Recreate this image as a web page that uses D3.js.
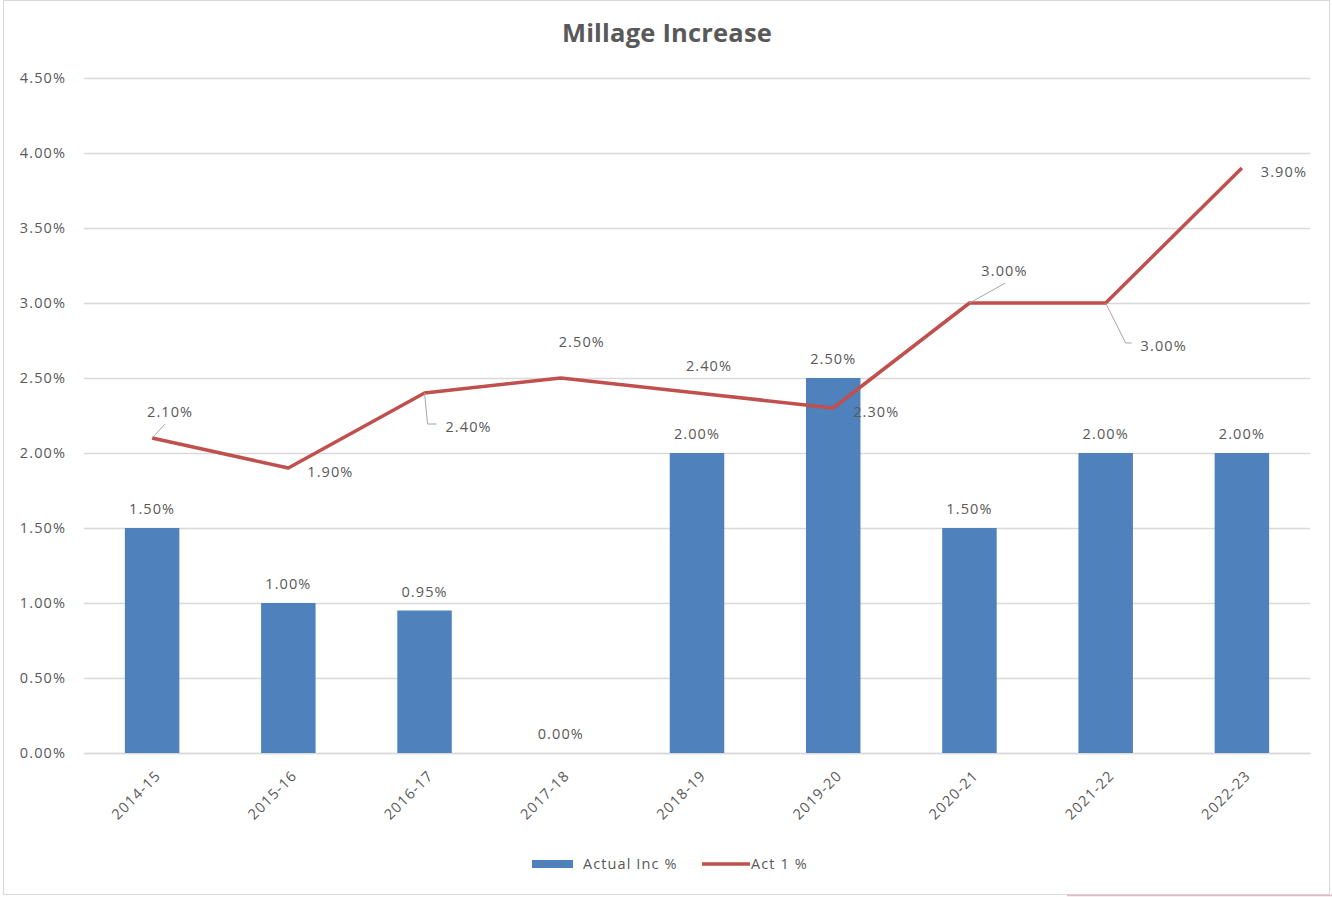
<!DOCTYPE html>
<html><head><meta charset="utf-8">
<script src="https://cdn.jsdelivr.net/npm/d3@7"></script>
<style>body{margin:0;background:#fff}svg{display:block}text{font-family:"Open Sans","Liberation Sans",sans-serif;fill:#595959;letter-spacing:1.1px}</style>
</head><body><svg id="c" width="1332" height="897"></svg>
<script>
const categories = ["2014-15","2015-16","2016-17","2017-18","2018-19","2019-20","2020-21","2021-22","2022-23"];
const actualInc = [1.50,1.00,0.95,0.00,2.00,2.50,1.50,2.00,2.00];
const act1 = [2.10,1.90,2.40,2.50,2.40,2.30,3.00,3.00,3.90];
const yTicks = [0,0.5,1,1.5,2,2.5,3,3.5,4,4.5];
// label placement offsets for line labels (dx, dy from point) and leader line paths
const lineLabelOff = [[18,-26],[42,4],[44,34],[21,-36],[12,-27],[43,4],[35,-32],[58,43],[42,4]];
const leaders = [[[0,0],[13,-14]],null,[[0,0],[3,31],[12,31]],null,null,null,[[0,0],[36,-20]],[[0,0],[20,40],[26,40]],null];

const svg = d3.select("#c");
svg.append("rect").attr("x",3.5).attr("y",0.5).attr("width",1326).attr("height",894).attr("fill","none").attr("stroke","#d9d9d9");
svg.append("line").attr("x1",1067).attr("x2",1332).attr("y1",895.5).attr("y2",895.5).attr("stroke","#e8b4c8").attr("stroke-width",1.5);

const m = {l:84,r:1310,t:78,b:753};
const x = d3.scaleBand().domain(categories).range([m.l,m.r]).paddingInner(0.6).paddingOuter(0.3);
const xc = d => x(d)+x.bandwidth()/2;
const y = d3.scaleLinear().domain([0,4.5]).range([m.b,m.t]);

svg.append("text").attr("x",667).attr("y",42).attr("text-anchor","middle").attr("font-size",25.5).attr("font-weight","bold").style("letter-spacing","0.2px").text("Millage Increase");

const gy = svg.append("g").attr("transform",`translate(${m.l},0)`)
 .call(d3.axisLeft(y).tickValues(yTicks).tickSize(-(m.r-m.l)).tickFormat(d=>d.toFixed(2)+"%"));
gy.select(".domain").remove();
gy.selectAll(".tick line").attr("stroke","#d9d9d9").attr("stroke-width",1.3);
gy.selectAll(".tick text").attr("x",-18).attr("font-size",14.5).attr("fill","#595959").attr("font-family","'Open Sans',sans-serif");

const gx = svg.append("g").attr("transform",`translate(0,${m.b})`)
 .call(d3.axisBottom(x).tickSize(0));
gx.select(".domain").attr("stroke","#d9d9d9").attr("stroke-width",1.3);
gx.selectAll(".tick text").attr("font-size",14.5).attr("fill","#595959").attr("font-family","'Open Sans',sans-serif")
 .attr("text-anchor","end").attr("transform","translate(6,20) rotate(-45)").attr("dy","0.35em").attr("dx",0).attr("y",0);

svg.append("g").selectAll("rect").data(actualInc).join("rect")
 .attr("x",(d,i)=>x(categories[i])).attr("width",x.bandwidth())
 .attr("y",d=>y(d)).attr("height",d=>y(0)-y(d)).attr("fill","#4f81bd");

svg.append("g").selectAll("text").data(actualInc).join("text")
 .attr("x",(d,i)=>xc(categories[i])).attr("y",d=>y(d)-14).attr("text-anchor","middle").attr("font-size",14.5)
 .text(d=>d.toFixed(2)+"%");

svg.append("path").datum(act1).attr("fill","none").attr("stroke","#c0504d").attr("stroke-width",3.5).attr("stroke-linejoin","round")
 .attr("d",d3.line().x((d,i)=>xc(categories[i])).y(d=>y(d)));

const lg = svg.append("g");
act1.forEach((v,i)=>{
  const px=xc(categories[i]), py=y(v);
  if(leaders[i]) lg.append("path").attr("fill","none").attr("stroke","#a6a6a6").attr("stroke-width",1)
    .attr("d",d3.line()(leaders[i].map(p=>[px+p[0],py+p[1]])));
  lg.append("text").attr("x",px+lineLabelOff[i][0]).attr("y",py+lineLabelOff[i][1]).attr("dy","0.35em")
    .attr("text-anchor","middle").attr("font-size",14.5).text(v.toFixed(2)+"%");
});

svg.append("rect").attr("x",532).attr("y",860).attr("width",41).attr("height",8).attr("fill","#4f81bd");
svg.append("text").attr("x",583).attr("y",864).attr("dy","0.35em").attr("font-size",14.5).text("Actual Inc %");
svg.append("line").attr("x1",702).attr("x2",750).attr("y1",864).attr("y2",864).attr("stroke","#c0504d").attr("stroke-width",3.5);
svg.append("text").attr("x",751).attr("y",864).attr("dy","0.35em").attr("font-size",14.5).text("Act 1 %");
</script></body></html>
